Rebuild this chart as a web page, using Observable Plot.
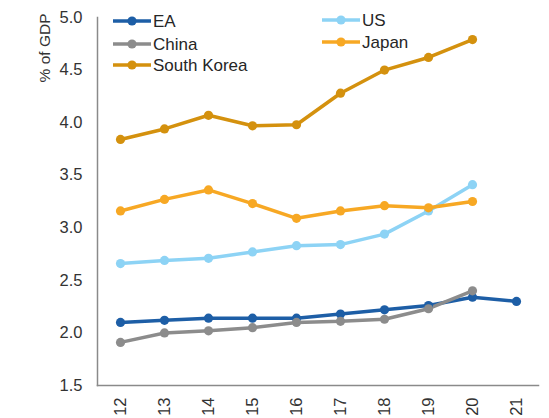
<!DOCTYPE html>
<html>
<head>
<meta charset="utf-8">
<script src="https://cdn.jsdelivr.net/npm/d3@7"></script>
<script src="https://cdn.jsdelivr.net/npm/@observablehq/plot@0.6"></script>
<style>
  body { margin: 0; background: #fff; font-family: "Liberation Sans", Arial, sans-serif; }
  #wrap { position: relative; width: 549px; height: 418px; }
  .leg { position: absolute; display: flex; align-items: center; font-size: 17px; color: #262626; line-height: 1; white-space: nowrap; }
  .leg svg { margin-right: 2px; }
</style>
</head>
<body>
<div id="wrap"></div>
<script>
const years = ["12","13","14","15","16","17","18","19","20","21"];
const seriesNames = ["EA","US","China","Japan","South Korea"];
const seriesColors = ["#1d5ea6","#8dd3f5","#8c8c8c","#f7a824","#d4910e"];
const ea    = [2.10,2.12,2.14,2.14,2.14,2.18,2.22,2.26,2.34,2.30];
const us    = [2.66,2.69,2.71,2.77,2.83,2.84,2.94,3.16,3.41,null];
const china = [1.91,2.00,2.02,2.05,2.10,2.11,2.13,2.23,2.40,null];
const japan = [3.16,3.27,3.36,3.23,3.09,3.16,3.21,3.19,3.25,null];
const korea = [3.84,3.94,4.07,3.97,3.98,4.28,4.50,4.62,4.79,null];
const yTicks = [1.5,2.0,2.5,3.0,3.5,4.0,4.5,5.0];
const yLabel = "% of GDP";

const valuesBySeries = [ea, us, china, japan, korea];
const data = [];
valuesBySeries.forEach((vals, i) => {
  vals.forEach((v, j) => {
    if (v != null) data.push({series: seriesNames[i], year: years[j], value: v});
  });
});

const chart = Plot.plot({
  width: 549,
  height: 418,
  marginLeft: 97,
  marginRight: 11,
  marginTop: 17,
  marginBottom: 33,
  style: {fontFamily: "Liberation Sans, Arial, sans-serif", fontSize: "16px", color: "#333", background: "#fff"},
  x: {type: "band", domain: years, padding: 0, align: 0.5},
  y: {domain: [1.5, 5.0]},
  color: {domain: seriesNames, range: seriesColors},
  marks: [
    Plot.axisY({ticks: yTicks, tickFormat: d3.format(".1f"), tickSize: 0, tickPadding: 15, label: null, fontSize: 16.5}),
    Plot.axisX({tickSize: 0, tickPadding: 12, tickRotate: -90, label: null, fontSize: 16.5}),
    Plot.frame({anchor: "left", stroke: "#8a8a8a", strokeWidth: 1.5}),
    Plot.frame({anchor: "bottom", stroke: "#8a8a8a", strokeWidth: 1.5}),
    Plot.line(data, {x: "year", y: "value", z: "series", stroke: "series", strokeWidth: 3.5, curve: "linear"}),
    Plot.dot(data, {x: "year", y: "value", fill: "series", r: 4.6}),
    Plot.text([yLabel], {frameAnchor: "top-left", rotate: -90, textAnchor: "end", dx: -59, dy: -4, fontSize: 15.5, fill: "#333"})
  ]
});
const wrap = document.getElementById("wrap");
wrap.appendChild(chart);

// legend (two columns, row-major order)
const legendPos = [
  {left: 113, top: 21}, {left: 322, top: 20},
  {left: 113, top: 44}, {left: 322, top: 42},
  {left: 113, top: 65}
];
seriesNames.forEach((name, i) => {
  const d = document.createElement("div");
  d.className = "leg";
  d.style.left = legendPos[i].left + "px";
  d.style.top = (legendPos[i].top - 9) + "px";
  d.style.height = "18px";
  const c = seriesColors[i];
  d.innerHTML = `<svg width="38" height="12"><line x1="0" y1="6" x2="38" y2="6" stroke="${c}" stroke-width="3.5"/><circle cx="19" cy="6" r="4.6" fill="${c}"/></svg><span>${name}</span>`;
  wrap.appendChild(d);
});
</script>
</body>
</html>
